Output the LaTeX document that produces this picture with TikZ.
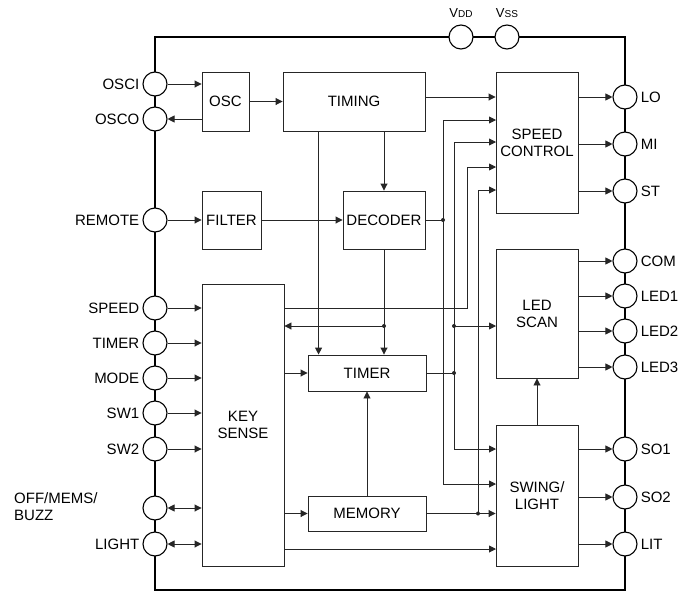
\documentclass[tikz,border=0pt]{standalone}
\usepackage{fontspec}
\setmainfont{Liberation Sans}
\usetikzlibrary{arrows.meta}

\begin{document}
\begin{tikzpicture}[x=1pt,y=-1pt,>={Triangle[length=7pt,width=7pt]}]
\tikzset{blk/.style={draw=black!85,line width=.9pt,inner sep=0pt,align=center,font=\fontsize{15}{17}\selectfont},
  pad/.style={circle,draw=black,line width=1.1pt,fill=white,minimum size=24pt,inner sep=0pt},
  lab/.style={inner sep=3pt,font=\fontsize{15}{17}\selectfont},
  wire/.style={draw=black!85,line width=.9pt}, arr/.style={wire,->}, darr/.style={wire,<->},
  dot/.style={fill=black!85}}
\useasboundingbox (0,0) rectangle (683,592);
% chip outline
\draw[line width=1.1pt] (155,37) rectangle (625,590);
% pins
\foreach \n/\y/\t in {osci/84/OSCI,osco/119/OSCO,remote/220/REMOTE,spd/308/SPEED,tmr/343/TIMER,
    mode/378/MODE,swa/413/SW1,swb/449/SW2,light/544/LIGHT} {
  \node[pad] (\n) at (155,\y) {};
  \node[lab,anchor=east] (\n-t) at (\n.west) {\t};
}
\node[pad] (off) at (155,508) {};
\node[lab,anchor=west,align=left] (off-t) at (11,507) {OFF/MEMS/\\BUZZ};
\foreach \n/\y/\t in {lo/97/LO,mi/144/MI,st/191/ST,com/261/COM,leda/296/LED1,ledb/331/LED2,
    ledc/367/LED3,soa/449/SO1,sob/497/SO2,lit/544/LIT} {
  \node[pad] (\n) at (625,\y) {};
  \node[lab,anchor=west] (\n-t) at (\n.east) {\t};
}
\node[pad] (vdd) at (461,37) {};
\node[pad] (vss) at (507,37) {};
\node[lab,anchor=base,font=\fontsize{13}{15}\selectfont] (vdd-t) at (461,17) {V{\fontsize{10}{12}\selectfont DD}};
\node[lab,anchor=base,font=\fontsize{13}{15}\selectfont] (vss-t) at (507,17) {V{\fontsize{10}{12}\selectfont SS}};
% blocks
\node[blk,minimum width=47pt,minimum height=59pt] (osc) at (225.5,101.5) {OSC};
\node[blk,minimum width=142pt,minimum height=59pt] (timing) at (354,101.5) {TIMING};
\node[blk,minimum width=59pt,minimum height=58pt] (filter) at (231.5,220) {FILTER};
\node[blk,minimum width=82pt,minimum height=58pt] (decoder) at (384,220) {DECODER};
\node[blk,minimum width=82pt,minimum height=141pt] (speed) at (537,142.5) {SPEED\\CONTROL};
\node[blk,minimum width=82pt,minimum height=129pt] (ledscan) at (537,313.5) {LED\\SCAN};
\node[blk,minimum width=82pt,minimum height=141pt] (swing) at (537,495.5) {SWING/\\LIGHT};
\node[blk,minimum width=82pt,minimum height=282pt] (keysense) at (243,425) {KEY\\SENSE};
\node[blk,minimum width=118pt,minimum height=36pt] (timer) at (367,373) {TIMER};
\node[blk,minimum width=118pt,minimum height=35pt] (memory) at (367,513.5) {MEMORY};
% bends and inputs
\coordinate (sIn2) at (496,120);
\coordinate (sIn3) at (496,142);
\coordinate (sIn4) at (496,167);
\coordinate (sIn5) at (496,190);
\coordinate (lIn) at (496,326);
\coordinate (wIn1) at (496,449);
\coordinate (wIn2) at (496,484);
\coordinate (wIn4) at (496,549);
\coordinate (dj) at (443,220);
\coordinate (tj) at (454,373);
\coordinate (tj2) at (454,326);
\coordinate (kc) at (467,308);
\coordinate (mj) at (478,513.5);
\coordinate (dk) at (384,326);
% oscillator and timing
\draw[arr] (osci.east) -- (osci.east -| osc.west);
\draw[arr] (osc.west |- osco) -- (osco.east);
\draw[arr] (osc.east) -- (timing.west);
\draw[arr] (timing.east |- lo) -- (speed.west |- lo);
\draw[arr] (timing.south -| decoder) -- (decoder.north);
\draw[arr] ([xshift=36pt]timing.south west) -- ([xshift=11pt]timer.north west);
\draw[arr] (remote.east) -- (filter.west);
\draw[arr] (filter.east) -- (decoder.west);
% decoder outputs
\draw[arr] (decoder.south) -- (decoder.south |- timer.north);
\draw[arr] (dk) -- (dk -| keysense.east);
\draw[wire] (decoder.east) -- (dj);
\draw[arr] (dj) |- (sIn2);
\draw[arr] (dj) |- (wIn2);
% timer outputs
\draw[wire] (timer.east) -- (tj);
\draw[arr] (tj) |- (sIn3);
\draw[arr] (tj) |- (wIn1);
\draw[arr] (tj2) -- (lIn);
% key sense
\draw[arr] (keysense.east |- spd) -- (kc) |- (sIn4);
\draw[arr] (keysense.east |- timer) -- (timer.west);
\draw[arr] (keysense.east |- memory) -- (memory.west);
\draw[arr] (keysense.east |- wIn4) -- (wIn4);
\foreach \n in {spd,tmr,mode,swa,swb}
  \draw[arr] (\n.east) -- (\n.east -| keysense.west);
\foreach \n in {off,light}
  \draw[darr] (\n.east) -- (\n.east -| keysense.west);
% memory
\draw[arr] (memory.north) -- (timer.south);
\draw[arr] (memory.east) -- (memory.east -| swing.west);
\draw[arr] (mj) |- (sIn5);
\draw[arr] (swing.north) -- (ledscan.south);
% outputs
\foreach \b/\n in {speed/lo,speed/mi,speed/st,ledscan/com,ledscan/leda,ledscan/ledb,ledscan/ledc,swing/soa,swing/sob,swing/lit}
  \draw[arr] (\b.east |- \n) -- (\n.west);
\foreach \c in {dj,tj,tj2,mj,dk}
  \fill[dot] (\c) circle (2pt);
\end{tikzpicture}
\end{document}
